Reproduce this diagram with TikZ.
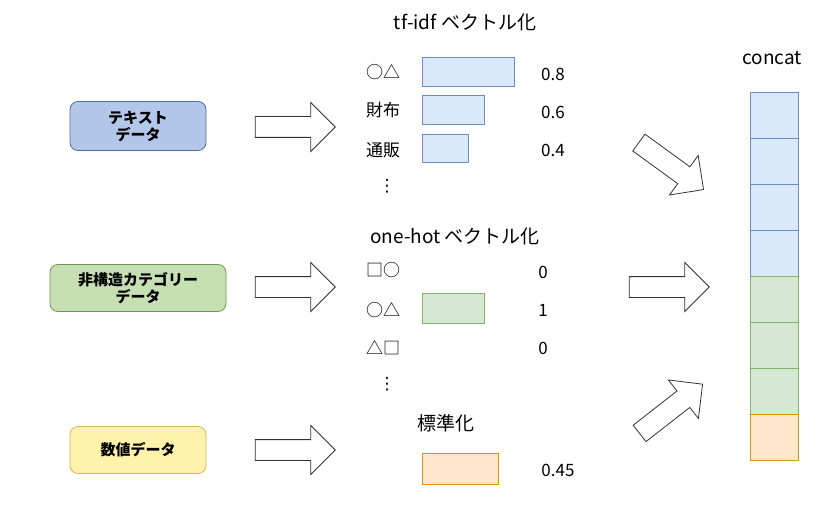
\documentclass[tikz,border=0pt]{standalone}
\usepackage{fontspec}
\setmainfont{Noto Sans CJK JP}
\newfontfamily\dejavu{DejaVu Sans}
\usetikzlibrary{shapes.arrows}
\definecolor{txtfill}{HTML}{B3C8E8}
\definecolor{txtdraw}{HTML}{4A6FA5}
\definecolor{catfill}{HTML}{C6E0B4}
\definecolor{catdraw}{HTML}{6B9A4E}
\definecolor{numfill}{HTML}{FFF2AB}
\definecolor{numdraw}{HTML}{D6B656}
\definecolor{bfill}{HTML}{DAE8FC}
\definecolor{bdraw}{HTML}{6C8EBF}
\definecolor{gfill}{HTML}{D5E8D4}
\definecolor{gdraw}{HTML}{82B366}
\definecolor{ofill}{HTML}{FFE6CC}
\definecolor{odraw}{HTML}{D79B00}
\tikzset{
    src/.style={rectangle, rounded corners=8pt, thick, align=center, font=\bfseries\fontsize{15}{17}\selectfont, inner sep=0pt},
    bigarrow/.style={single arrow, draw=black!80, thick, fill=white, minimum height=80pt, minimum width=48pt, inner sep=10pt, single arrow head extend=14pt},
    title/.style={font=\fontsize{19}{21}\selectfont},
    lab/.style={font=\fontsize{17}{19}\selectfont},
    bar/.style={rectangle, draw, thick, inner sep=0pt, anchor=north west},
    cell/.style={rectangle, draw, thick, minimum width=48pt, minimum height=46pt, inner sep=0pt, anchor=north west}
}
\begin{document}
\begin{tikzpicture}[x=1pt, y=-1pt]
    \useasboundingbox (0,0) rectangle (825,508);
    % Input data
    \node[src, fill=txtfill, draw=txtdraw, minimum width=136pt, minimum height=49pt] (text) at (138,126) {テキスト\\データ};
    \node[src, fill=catfill, draw=catdraw, minimum width=176pt, minimum height=47pt] (cat) at (138,288) {非構造カテゴリー\\データ};
    \node[src, fill=numfill, draw=numdraw, minimum width=136pt, minimum height=47pt] (num) at (138,450) {数値データ};

    % Arrows into vectorizers
    \node[bigarrow] (a1) at (290,127) {};
    \node[bigarrow] (a2) at (290,287) {};
    \node[bigarrow] (a3) at (290,450) {};

    % tf-idf
    \node[title] (tfidf) at (465,22) {tf-idf ベクトル化};
    \node[lab] (w1) at (383,72) {○△};
    \node[lab] (w2) at (383,110) {財布};
    \node[lab] (w3) at (383,150) {通販};
    \node[lab] (w4) at (387,186) {\dejavu ⋮};
    \node[bar, fill=bfill, draw=bdraw, minimum width=92pt, minimum height=29pt] (b1) at (422,57) {};
    \node[bar, fill=bfill, draw=bdraw, minimum width=62pt, minimum height=29pt] (b2) at (422,95) {};
    \node[bar, fill=bfill, draw=bdraw, minimum width=46pt, minimum height=28pt] (b3) at (422,134) {};
    \node[lab] (v1) at (553,74) {0.8};
    \node[lab] (v2) at (553,112) {0.6};
    \node[lab] (v3) at (553,150) {0.4};

    % one-hot
    \node[title] (onehot) at (455,236) {one-hot ベクトル化};
    \node[lab] (c1) at (383,270) {□○};
    \node[lab] (c2) at (383,310) {○△};
    \node[lab] (c3) at (383,348) {△□};
    \node[lab] (c4) at (387,384) {\dejavu ⋮};
    \node[bar, fill=gfill, draw=gdraw, minimum width=62pt, minimum height=30pt] (g1) at (422,293) {};
    \node[lab] (u1) at (543,272) {0};
    \node[lab] (u2) at (543,310) {1};
    \node[lab] (u3) at (543,348) {0};

    % standardize
    \node[title] (std) at (446,423) {標準化};
    \node[bar, fill=ofill, draw=odraw, minimum width=76pt, minimum height=31pt] (o1) at (422,453) {};
    \node[lab] (s1) at (558,470) {0.45};

    % Arrows into concat
    \node[bigarrow, rotate=-36] (d1) at (667,163) {};
    \node[bigarrow] (d2) at (664,287) {};
    \node[bigarrow, rotate=38] (d3) at (667,412) {};

    % concat
    \node[title] (concat) at (772,58) {concat};
    \foreach \i in {0,...,3}
        \node[cell, fill=bfill, draw=bdraw] (cb\i) at (750,92+46*\i) {};
    \foreach \i in {0,...,2}
        \node[cell, fill=gfill, draw=gdraw] (cg\i) at (750,276+46*\i) {};
    \node[cell, fill=ofill, draw=odraw] (co) at (750,414) {};
\end{tikzpicture}
\end{document}
